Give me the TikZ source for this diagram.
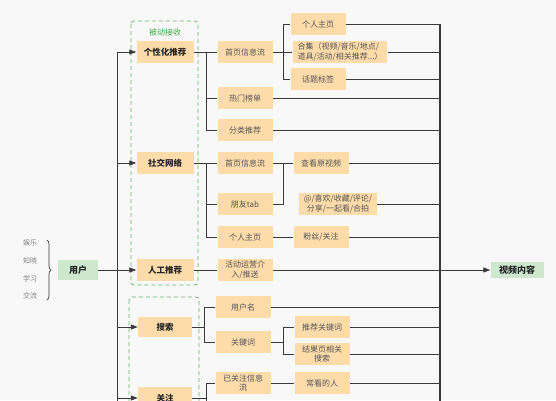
\documentclass[tikz,border=0pt]{standalone}
\usepackage{fontspec}
\setmainfont{Noto Sans CJK SC}
\usetikzlibrary{arrows.meta, positioning, calc, decorations.pathreplacing}
\definecolor{peach}{HTML}{FDDCAA}
\definecolor{mint}{HTML}{CDE8CF}
\definecolor{dashgreen}{HTML}{62B46A}
\definecolor{passgreen}{HTML}{3FAA46}
\definecolor{linegray}{HTML}{3A3A3A}
\definecolor{txtgray}{HTML}{555555}
\definecolor{bggray}{HTML}{F8F8F8}

\begin{document}
\begin{tikzpicture}[
    x=1pt, y=-1pt,
    item/.style={fill=peach, minimum width=55pt, minimum height=22pt, inner sep=2pt,
                 align=center, text=txtgray, font=\fontsize{8}{9.5}\selectfont},
    topic/.style={fill=peach, minimum width=57pt, minimum height=22pt, inner sep=2pt,
                  text=black!85, font=\fontsize{8.5}{10}\selectfont\bfseries},
    keynode/.style={fill=mint, minimum height=20pt, inner sep=2pt,
                    text=black!85, font=\fontsize{9}{10}\selectfont\bfseries},
    link/.style={draw=linegray, line width=0.8pt},
    arr/.style={link, -{Triangle[length=7pt, width=5pt]}},
    group/.style={draw=dashgreen, dashed, dash pattern=on 4pt off 3pt,
                  rounded corners=3pt, line width=0.8pt},
]
    % Canvas
    \useasboundingbox (0,0) rectangle (556,400);
    \fill[bggray] (0,0) rectangle (556,400);
    \clip (0,0) rectangle (556,400);

    % Branch positions
    \coordinate (ltop) at (117,52);
    \coordinate (lbot) at (117,420);
    \coordinate (rtop) at (440,24);
    \coordinate (rbot) at (440,420);
    \coordinate (bx) at (206,0);
    \coordinate (bxs) at (204,0);
    \coordinate (cx) at (283,0);
    \coordinate (bxbot) at (206,420);

    % Groups
    \draw[group] (131,21) rectangle (198,285);
    \draw[group] (129,297) rectangle (199,430);
    \node[text=passgreen, font=\fontsize{8}{9}\selectfont] (passive) at (165,32) {被动接收};

    % Source, reasons and target
    \node[keynode, minimum width=40pt] (user) at (78,270) {用户};
    \foreach \t [count=\i from 0] in {娱乐,知晓,学习,交流} {
        \node[text=gray, font=\fontsize{7}{8}\selectfont] (why\i) at (30,243+\i*17.7) {\t};
    }
    \draw[linegray, line width=0.7pt, decorate, decoration={brace, amplitude=4pt}]
        (47,240) -- (47,300);
    \node[keynode, minimum width=53pt, minimum height=16pt] (video) at (517,270) {视频内容};

    % Channels
    \node[topic] (gx) at (165,52) {个性化推荐};
    \node[topic] (sj) at (165,163) {社交网络};
    \node[topic] (rg) at (165,270) {人工推荐};
    \node[topic, minimum width=54pt, minimum height=20pt] (ss) at (165,327) {搜索};
    \node[topic, minimum width=54pt] (gz) at (165,398) {关注};

    % Entry points
    \node[item] (feed) at (245,52) {首页信息流};
    \node[item] (hot) at (245,98) {热门榜单};
    \node[item] (cat) at (245,130) {分类推荐};
    \node[item] (sfeed) at (245,163) {首页信息流};
    \node[item] (friend) at (245,204) {朋友tab};
    \node[item] (home) at (245,237) {个人主页};
    \node[item] (ops) at (245,270) {活动运营介\\入/推送};
    \node[item] (uname) at (243,307) {用户名};
    \node[item] (kw) at (243,342) {关键词};
    \node[item] (fol) at (243,383) {已关注信息\\流};

    % Details
    \node[item] (phome) at (318,24) {个人主页};
    \node[item, align=left, inner xsep=5pt] (coll) at (340,52) {合集（视频/音乐/地点/\\道具/活动/相关推荐...）};
    \node[item] (tag) at (318,79) {话题标签};
    \node[item] (orig) at (321,163) {查看原视频};
    \node[item, inner xsep=5pt] (act) at (338,204) {@/喜欢/收藏/评论/\\分享/一起看/合拍};
    \node[item] (fans) at (321,237) {粉丝/关注};
    \node[item] (rkw) at (322,327) {推荐关键词};
    \node[item] (rel) at (322,354) {结果页相关\\搜索};
    \node[item] (often) at (322,383) {常看的人};

    % User to channels
    \draw[arr] (lbot) |- (gx.west);
    \foreach \n in {sj,ss,gz} {
        \draw[arr] (\n.west -| ltop) -- (\n.west);
    }
    \draw[arr] (user.east) -- (rg.west);

    % Personalised
    \draw[link] (gx.east) -- (feed.west);
    \draw[link] (gx.east -| bx) |- (cat.west);
    \draw[link] (hot.west -| bx) -- (hot.west);
    \draw[link] (feed.east) -- (coll.west);
    \draw[link] (phome.west) -| (cx |- tag.west) -- (tag.west);

    % Social
    \draw[link] (sj.east) -- (sfeed.west);
    \draw[link] (sj.east -| bx) |- (home.west);
    \draw[link] (friend.west -| bx) -- (friend.west);
    \draw[link] (sfeed.east) -- (orig.west);
    \draw[link] (friend.east) -| (cx |- sfeed.east);
    \draw[link] (home.east) -- (fans.west);

    % Manual
    \draw[link] (rg.east) -- (ops.west);

    % Search
    \draw[link] (ss.east) -- (ss.east -| bxs);
    \draw[link] (uname.west) -| (bxs |- kw.west) -- (kw.west);
    \draw[link] (kw.east) -- (kw.east -| cx);
    \draw[link] (rkw.west) -| (cx |- rel.west) -- (rel.west);

    % Follow
    \draw[link] (gz.east) -- (gz.east -| bx);
    \draw[link] (fol.west) -| (bxbot);
    \draw[link] (fol.east) -- (often.west);

    % Into video content
    \foreach \n in {phome,coll,tag,hot,cat,orig,act,fans,uname,rkw,rel,often} {
        \draw[link] (\n.east) -- (\n.east -| rtop);
    }
    \draw[link, line width=1.1pt] (rtop) -- (rbot);
    \draw[arr] (ops.east) -- (video.west);
\end{tikzpicture}
\end{document}
